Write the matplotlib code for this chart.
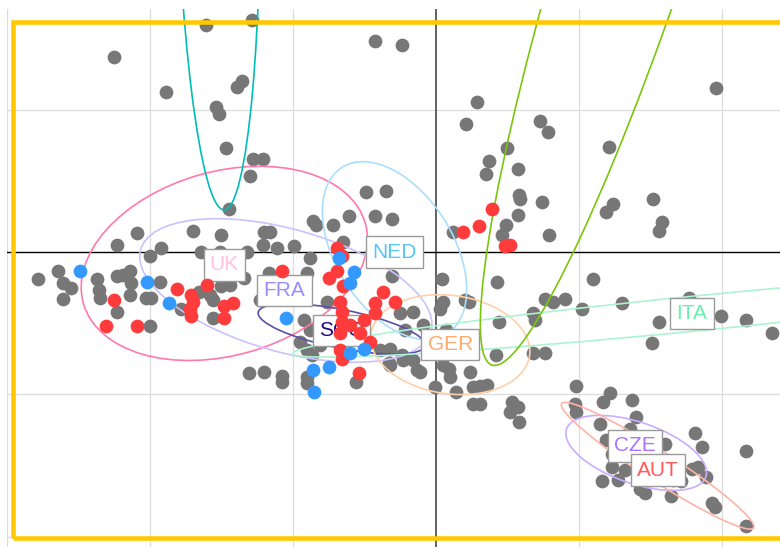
import matplotlib
matplotlib.use("Agg")
import matplotlib.pyplot as plt
from matplotlib.patches import Ellipse, Rectangle

plt.rcParams['font.family'] = ['Liberation Sans', 'DejaVu Sans']

# ---------------- data ----------------
gray_x = [-2.25, -1.61, -1.29, -1.89, -1.36, -1.39, -1.54, -1.52, -1.47, -1.28, -1.21, -1.30, -1.45,
          -0.43, -0.24, -0.49, -0.35, -0.61, -0.43, -0.31, -0.86, -0.84, -0.72,
          -1.70, -2.09, -2.23, -1.50, -1.92, -2.00, -1.64, -1.51, -1.32, -1.20, -1.16, -1.21, -1.11, -0.99, -0.88, -0.65,
          -2.64, -2.78, -2.61, -2.55, -2.61, -2.37, -2.36, -2.35, -2.23, -2.19, -2.14, -2.13, -2.14, -2.03, -1.99, -1.93,
          -2.23, -2.00, -1.78,
          -1.66, -1.58, -1.56, -1.56, -1.50, -1.44, -1.34, -1.52, -1.17, -1.23, -1.16, -0.92, -0.76, -0.90, -0.88,
          -1.31, -1.20, -1.08, -1.08, -0.90, -0.90, -0.56, -0.95, -0.90, -0.87, -0.81,
          -0.31, -0.25, -0.16, -0.09, -0.22, -0.39, -0.33, -0.24, -0.13, -0.32, -0.23, -0.16, -0.11, -0.32,
          0.04, 0.43, 0.20, 0.23, 0.05, 0.03, 0.07, 0.44, 0.68, 0.69, 0.76, 0.82, 0.90, 1.02, 1.10, 1.30, 1.77,
          1.56, 1.99, 2.17, 2.35, 1.51, 0.68, 0.76, 0.42, 0.05, 0.09, 0.10, 0.24, -0.01, 0.14, 0.26, 0.31, 0.36,
          0.26, 0.31, 0.53, 0.57, 0.52, 0.58,
          1.96, 0.29, 0.21, 0.73, 0.78, 1.21, 0.50, 0.37, 0.35, 0.57, 0.58, 0.59, 0.74, 0.57, 0.49, 0.46, 0.79,
          0.12, 1.19, 1.24, 1.52, 1.58, 1.56,
          0.98, 1.17, 1.22, 1.37, 0.97, 0.98, 1.15, 1.40, 1.36, 1.19, 1.23, 1.23, 1.16, 1.27, 1.43, 1.46, 1.64,
          1.53, 1.57, 1.81, 1.86, 1.79, 1.83, 1.89, 1.93, 1.95, 2.17, 2.17, 1.66, 1.50, 1.60, 1.29, 1.32, 1.71]
gray_y = [1.37, 1.59, 1.63, 1.12, 1.20, 1.16, 1.02, 0.97, 0.73, 0.65, 0.65, 0.53, 0.30,
          1.48, 1.45, 0.42, 0.43, 0.25, 0.25, 0.23, 0.22, 0.19, 0.19,
          0.15, 0.13, 0.05, 0.12, 0.03, -0.03, 0.00, 0.00, 0.00, 0.14, 0.14, 0.05, 0.03, 0.04, -0.04, 0.07,
          -0.13, -0.19, -0.22, -0.25, -0.33, -0.19, -0.27, -0.32, -0.17, -0.16, -0.13, -0.22, -0.30, -0.32, -0.32, -0.21,
          -0.42, -0.52, -0.40,
          -0.28, -0.30, -0.34, -0.46, -0.24, -0.23, -0.18, -0.15, -0.15, -0.34, -0.30, -0.48, -0.35, -0.15, -0.55,
          -0.85, -0.84, -0.87, -0.91, -0.88, -0.92, -0.91, -0.63, -0.69, -0.72, -0.65,
          -0.17, -0.43, -0.42, -0.51, -0.55, -0.69, -0.78, -0.72, -0.83, -0.79, -0.76, -0.76, -0.84, -0.68,
          -0.19, -0.21, -0.34, -0.35, -0.35, -0.40, -0.55, -0.49, -0.43, -0.48, -0.33, -0.35, -0.33, -0.40, -0.19, -0.36, -0.32,
          -0.49, -0.45, -0.48, -0.57, -0.64, -0.71, -0.71, -0.72, -0.79, -0.82, -0.88, -0.84, -0.95, -0.98, -0.95, -0.94, -0.93,
          -1.07, -1.07, -1.05, -1.09, -1.12, -1.19,
          1.15, 1.05, 0.90, 0.92, 0.84, 0.74, 0.73, 0.64, 0.55, 0.58, 0.40, 0.37, 0.35, 0.26, 0.19, 0.12, 0.12,
          0.14, 0.28, 0.34, 0.37, 0.21, 0.15,
          -0.94, -1.05, -0.99, -1.04, -1.07, -1.12, -1.21, -1.16, -1.24, -1.32, -1.42, -1.51, -1.61, -1.60, -1.66, -1.69, -1.71,
          -1.53, -1.46, -1.27, -1.37, -1.52, -1.51, -1.58, -1.76, -1.79, -1.40, -1.92, -1.60, -1.30, -1.35, -1.35, -1.53, -1.61]

red_x = [-2.25, -2.31, -2.09, -1.81, -1.71, -1.70, -1.71, -1.72, -1.60, -1.48, -1.42, -1.48, -1.08,
         -0.69, -0.66, -0.69, -0.75, -0.65, -0.67, -0.66, -0.66, -0.67, -0.60, -0.53, -0.46, -0.50, -0.43,
         -0.43, -0.37, -0.29, -0.67, -0.66, -0.54, 0.19, 0.30, 0.39, 0.48, 0.52]
red_y = [-0.34, -0.52, -0.52, -0.26, -0.30, -0.35, -0.45, -0.40, -0.23, -0.38, -0.36, -0.46, -0.13,
         0.03, -0.03, -0.13, -0.18, -0.24, -0.35, -0.42, -0.49, -0.57, -0.51, -0.57, -0.63, -0.48, -0.43,
         -0.36, -0.28, -0.35, -0.69, -0.75, -0.85, 0.14, 0.18, 0.30, 0.04, 0.05]

blue_x = [-2.49, -2.02, -1.87, -1.05, -0.86, -0.75, -0.85, -0.57, -0.60, -0.68, -0.50, -0.60]
blue_y = [-0.13, -0.21, -0.36, -0.46, -0.83, -0.81, -0.98, -0.14, -0.22, -0.04, -0.68, -0.71]

# confidence ellipses per team: center, width, height, angle
ell_names = ['UK', 'FRA', 'NED', 'SCO', 'GER', 'ITA', 'CZE', 'AUT', '', '']
ell_cx = [-1.48, -1.05, -0.29, -0.66, 0.10, 1.83, 1.40, 1.55, -1.53, 1.50]
ell_cy = [-0.08, -0.27, 0.01, -0.54, -0.65, -0.43, -1.41, -1.50, 3.10, 2.70]
ell_w = [2.05, 2.11, 1.38, 1.19, 1.12, 5.69, 1.03, 1.60, 0.60, 7.33]
ell_h = [1.29, 0.86, 0.82, 0.27, 0.69, 0.245, 0.43, 0.21, 5.61, 0.91]
ell_ang = [16, -15.8, -58, -11.4, -8, 5.7, -19, -33, 1, 72.4]
ell_colors = ['#ff79ad', '#c9c2ff', '#a9dffc', '#5b50a6', '#ffd0a9', '#aef3d2', '#caadff', '#ffb3a6',
              '#00bdb7', '#79c60c']

# team labels
lab_text = ['UK', 'FRA', 'NED', 'SCO', 'GER', 'ITA', 'CZE', 'AUT']
lab_x = [-1.48, -1.06, -0.29, -0.66, 0.10, 1.79, 1.39, 1.55]
lab_y = [-0.09, -0.27, 0.00, -0.55, -0.65, -0.43, -1.36, -1.53]
lab_colors = ['#ffc3dc', '#9a8cff', '#55c6fa', '#1c0a80', '#ffa96a', '#66f0ae', '#a872ff', '#ff5a5a']

grid_x = [-3, -2, -1, 1, 2]
grid_y = [-2, -1, 1]

# ---------------- figure ----------------
fig = plt.figure(figsize=(7.8, 5.51), dpi=100)
ax = fig.add_axes([6.7 / 780, 4 / 551, 1 - 6.7 / 780, (547 - 9.3) / 551])
ax.set_xlim(-3.002, 2.4056)
ax.set_ylim(-2.0702, 1.7032)
ax.set_axis_off()

for gx in grid_x:
    ax.axvline(gx, color='#dcdcdc', lw=0.9, zorder=0.5)
for gy in grid_y:
    ax.axhline(gy, color='#dcdcdc', lw=0.9, zorder=0.5)
ax.axvline(0, color='#555555', lw=1.3, zorder=0.8)
ax.axhline(0, color='black', lw=1.0, zorder=0.8)

ax.scatter(gray_x, gray_y, s=98, color='#777777', linewidths=0, zorder=2)

for cx, cy, w, h, a, c in zip(ell_cx, ell_cy, ell_w, ell_h, ell_ang, ell_colors):
    ax.add_patch(Ellipse((cx, cy), w, h, angle=a, fill=False, edgecolor=c, lw=1.2, zorder=3))

for t, x, y, c in zip(lab_text, lab_x, lab_y, lab_colors):
    ax.text(x, y, t, color=c, fontsize=15, ha='center', va='center', zorder=4,
            bbox=dict(boxstyle='square,pad=0.3', facecolor='white', edgecolor='#9a9a9a', lw=1.0))

ax.scatter(red_x, red_y, s=98, color='#ff3b3b', linewidths=0, zorder=5)
ax.scatter(blue_x, blue_y, s=98, color='#3399ff', linewidths=0, zorder=6)

ax.add_patch(Rectangle((-2.958, -2.005), 5.6, 3.619, fill=False, edgecolor='#ffc800',
                       lw=3.3, zorder=7, clip_on=True))

fig.savefig('out.png', dpi=100)
